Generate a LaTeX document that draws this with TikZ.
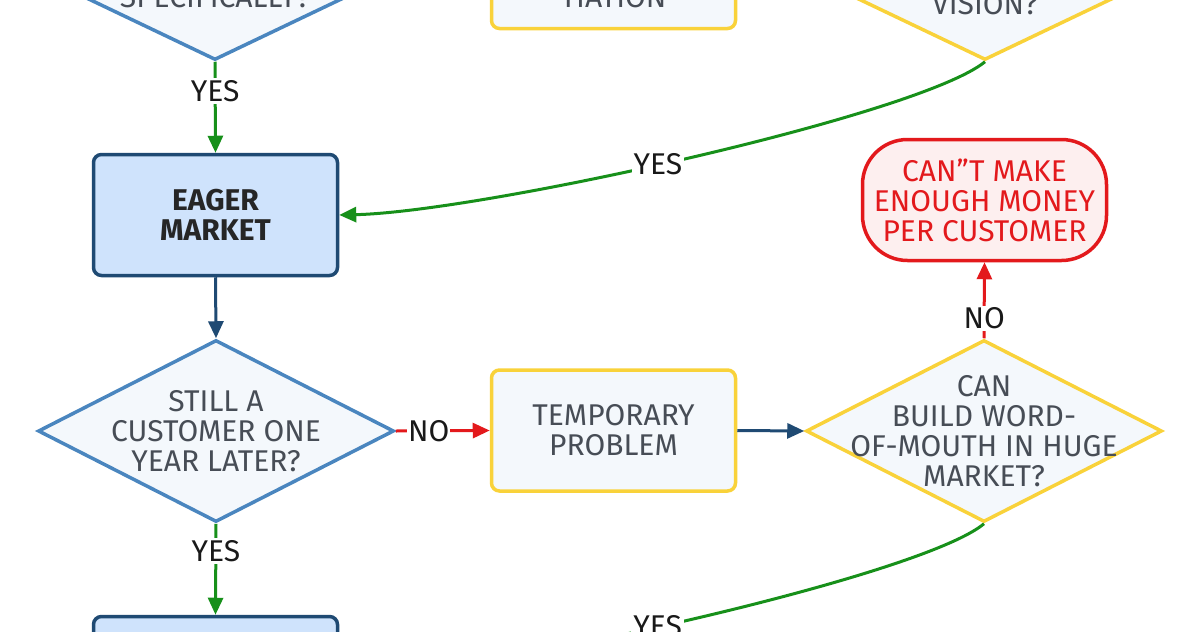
\documentclass[tikz,border=0pt]{standalone}
\usepackage{fontspec}
\setmainfont{Fira Sans}
\usetikzlibrary{
  calc, % for coordinate calculations
  shapes.geometric, % for the diamonds
  arrows.meta % for arrow tips
}

% Farben
\definecolor{darkblue}{HTML}{1F4A73}
\definecolor{lightblue}{HTML}{CFE3FC}
\definecolor{midblue}{HTML}{4A86BF}
\definecolor{paleblue}{HTML}{F4F8FC}
\definecolor{boxyellow}{HTML}{F9D23A}
\definecolor{stopred}{HTML}{E3191C}
\definecolor{palered}{HTML}{FDEFEF}
\definecolor{yesgreen}{HTML}{17901A}
\definecolor{textgrey}{HTML}{474D56}

\begin{document}
\begin{tikzpicture}[
      x=1pt, y=-1pt, % pixel coordinates, y downwards
      font=\fontsize{30}{30}\selectfont,
      >={Triangle[length=17pt,width=15pt]}, % Default arrow tip
      process/.style={draw=boxyellow, fill=paleblue, line width=3.5pt, rounded corners=8pt,
        minimum width=244pt, minimum height=121pt, text=textgrey, align=center},
      market/.style={process, draw=darkblue, fill=lightblue, text=black!85, font=\fontsize{30}{30}\selectfont\bfseries},
      stopbox/.style={process, draw=stopred, fill=palered, text=stopred, rounded corners=45pt},
      decision/.style={diamond, draw=midblue, fill=paleblue, line width=3.5pt, inner sep=0pt,
        minimum width=356pt, minimum height=182pt},
      qtext/.style={text=textgrey, align=center, inner sep=0pt},
      link/.style={->, line width=3pt, draw=darkblue},
      yes/.style={link, draw=yesgreen},
      no/.style={link, draw=stopred},
      lbl/.style={fill=white, text=black!90, inner sep=2pt},
    ]

    \useasboundingbox (0,0) rectangle (1200,632);
    \clip (0,0) rectangle (1200,632);

    % Knoten oben (abgeschnitten)
    \node[decision, minimum width=380pt] (spec) at (215,-31) {};
    \node[qtext] (spec-txt) at (215,-3) {SPECIFICALLY?};
    \node[process] (diff) at (613.5,-32) {};
    \node[qtext] (diff-txt) at (613.5,-3) {TIATION};
    \node[decision, draw=boxyellow, minimum width=380pt] (vision) at (985,-31) {};
    \node[qtext] (vision-txt) at (985,4) {VISION?};

    % Mitte
    \node[market] (eager) at (215.5,215) {EAGER\\MARKET};
    \node[stopbox] (cant) at (984.5,200) {CAN”T MAKE\\ENOUGH MONEY\\PER CUSTOMER};

    \node[decision] (still) at (216,431) {};
    \node[qtext] (still-txt) at (still) {STILL A\\CUSTOMER ONE\\YEAR LATER?};
    \node[process] (temp) at (613.5,430.5) {TEMPORARY\\PROBLEM};
    \node[decision, draw=boxyellow] (build) at (984,431) {};
    \node[qtext] (build-txt) at (build) {CAN\\BUILD WORD-\\OF-MOUTH IN HUGE\\MARKET?};

    % unten (abgeschnitten)
    \node[market] (bottom) at (215.5,677) {};

    % Verbindungen
    \draw[yes] (spec.south) -- node[lbl, pos=0.32] (yes1) {YES} (eager.north);
    \draw[yes] (vision.south) .. controls (920,115) and (480,212) ..
      node[lbl, pos=0.54] (yes2) {YES} (eager.east);
    \draw[link] (eager.south) -- (still.north);
    \draw[no] (still.east) -- node[lbl, pos=0.35, inner sep=1pt] (no1) {NO} (temp.west);
    \draw[yes] (still.south) -- node[lbl, pos=0.3] (yes3) {YES} (bottom.north);
    \draw[link] (temp.east) -- (build.west);
    \draw[no] (build.north) -- node[lbl, pos=0.26] (no2) {NO} (cant.south);
    \draw[yes] (build.south) .. controls (920,577) and (480,674) ..
      node[lbl, pos=0.54] (yes4) {YES} (bottom.east);

  \end{tikzpicture}
\end{document}
